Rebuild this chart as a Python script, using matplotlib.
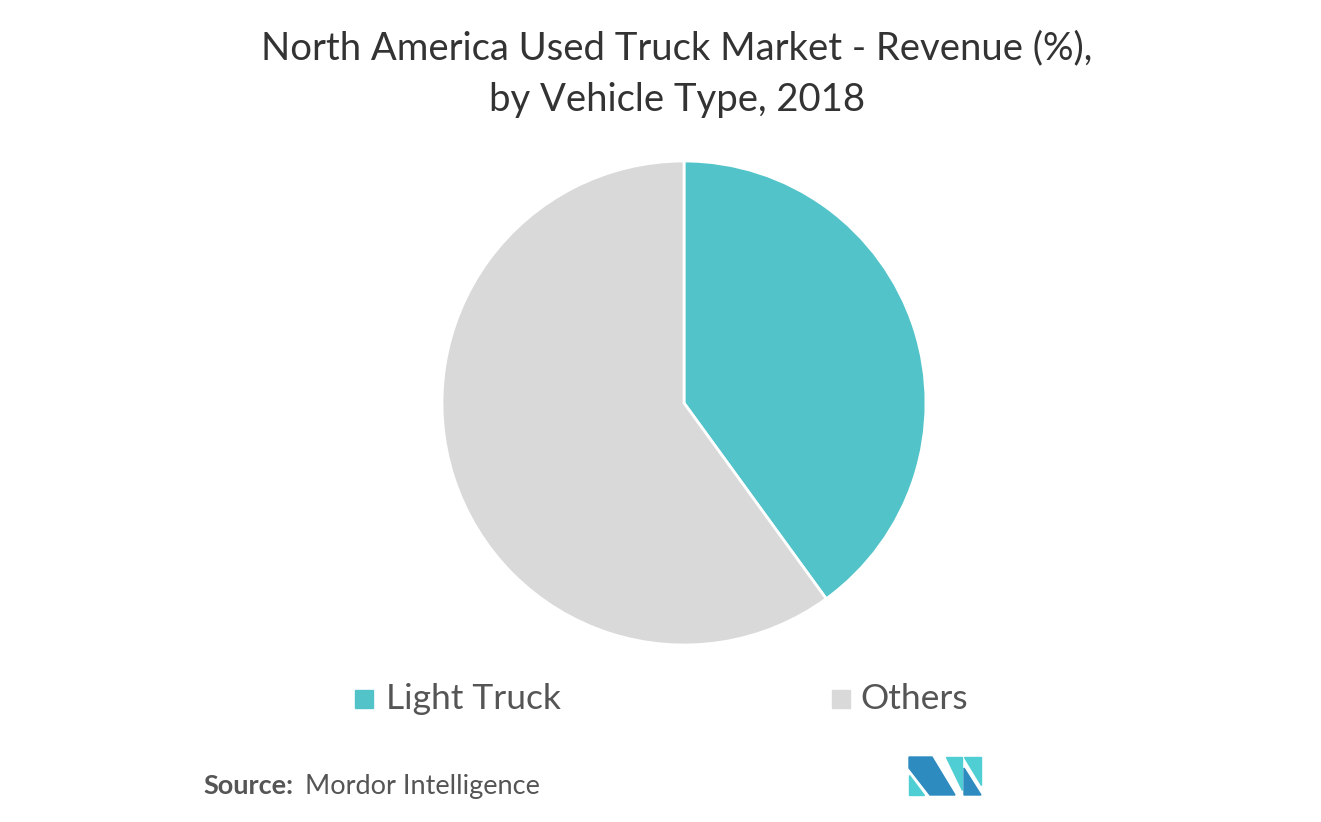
import matplotlib.pyplot as plt
from matplotlib.patches import Polygon, Rectangle

# data
labels = ['Light Truck', 'Others']
shares = [40, 60]
colors = ['#52C4C9', '#D9D9D9']

W, H = 1321, 822
fig = plt.figure(figsize=(W / 100, H / 100), dpi=100)
fig.patch.set_facecolor('white')
plt.rcParams['font.family'] = ['Lato', 'DejaVu Sans']


def fx(x):
    return x / W


def fy(y):
    return 1 - y / H


# pie
cx, cy, r = 684, 403, 242
ax = fig.add_axes([fx(cx - r), fy(cy + r), 2 * r / W, 2 * r / H])
ax.pie(shares, colors=colors, startangle=90, counterclock=False,
       wedgeprops=dict(edgecolor='white', linewidth=2))
ax.set_aspect('equal')
ax.set_xlim(-1, 1)
ax.set_ylim(-1, 1)
ax.axis('off')

# title
fig.text(fx(677), fy(48), 'North America Used Truck Market - Revenue (%),',
         ha='center', va='center', fontsize=27.5, color='#333333')
fig.text(fx(677), fy(100), 'by Vehicle Type, 2018',
         ha='center', va='center', fontsize=27.5, color='#333333')

# legend
sq_x = [355, 832]
txt_x = [386, 860]
for i, lab in enumerate(labels):
    fig.patches.append(Rectangle((fx(sq_x[i]), fy(708)), 18 / W, 18 / H,
                                 transform=fig.transFigure, color=colors[i]))
    fig.text(fx(txt_x[i]), fy(699), lab, ha='left', va='center',
             fontsize=25.5, color='#555555')

# source
fig.text(fx(203), fy(786), 'Source:', ha='left', va='center', fontsize=19.5,
         color='#555555', fontweight='bold')
fig.text(fx(305), fy(786), 'Mordor Intelligence', ha='left', va='center',
         fontsize=19.5, color='#555555')

# logo
dark = '#2E8BC0'
teal = '#4FCFD3'
logo = [
    ([(909, 775), (909, 795), (924, 795)], teal),
    ([(909, 757), (932, 757), (955, 795), (930, 795), (909, 768)], dark),
    ([(946, 757), (962, 757), (962, 790)], teal),
    ([(964, 768), (981, 795), (964, 795)], dark),
    ([(964, 757), (981, 757), (981, 785)], teal),
]
for pts, c in logo:
    fig.patches.append(Polygon([(fx(x), fy(y)) for x, y in pts], closed=True,
                               transform=fig.transFigure, color=c))

fig.savefig('out.png', dpi=100, facecolor='white')
